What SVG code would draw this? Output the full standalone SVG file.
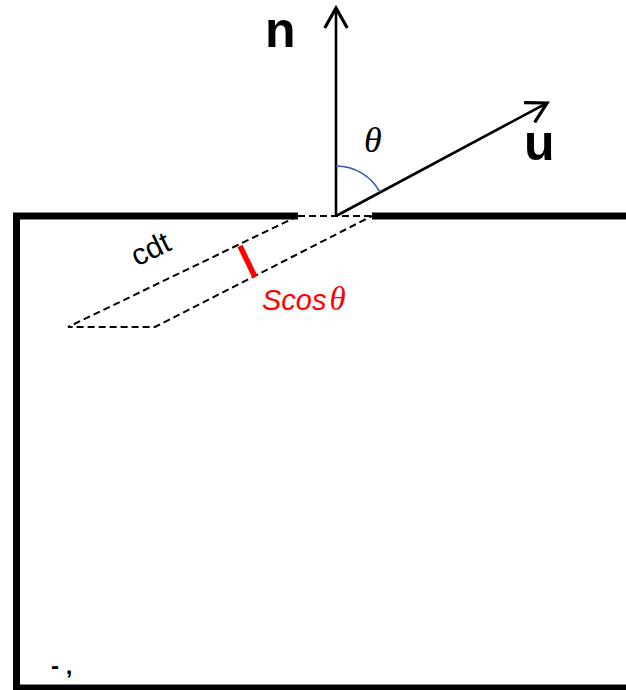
<svg xmlns="http://www.w3.org/2000/svg" width="626" height="690" viewBox="0 0 626 690">
<defs>
<style>
.wall{stroke:#000;stroke-width:7;fill:none;stroke-linecap:butt;stroke-linejoin:miter}
.vec{stroke:#000;stroke-width:2.6;fill:none}
.dash{stroke:#000;stroke-width:2;fill:none;stroke-dasharray:7 4}
.bold{font-family:"Liberation Sans",Arial,sans-serif;font-weight:bold;font-size:50px;fill:#000}
.greek{font-family:"Liberation Serif","Times New Roman",serif;font-style:italic;fill:#000}
</style>
<marker id="arr" markerUnits="userSpaceOnUse" markerWidth="30" markerHeight="30" refX="0" refY="0" viewBox="-20 -12 24 24" orient="auto" overflow="visible">
<path d="M-16,-9 L0,0 L-16,9" fill="none" stroke="#000" stroke-width="2.6" stroke-linejoin="miter"/>
</marker>
</defs>
<rect width="626" height="690" fill="#fff"/>
<g id="container">
<path class="wall" d="M298,216 H16.5 V688 H626"/>
<path class="wall" d="M372,216 H626"/>
</g>
<g id="connectors">
<line id="n-vector" class="vec" x1="336" y1="216" x2="336" y2="8" marker-end="url(#arr)"/>
<line id="u-vector" class="vec" x1="336" y1="216" x2="547" y2="103" marker-end="url(#arr)"/>
<path id="angle-arc" d="M336,166 A50,50 0 0 1 380.1,192.4" fill="none" stroke="#2f5bab" stroke-width="1.6"/>
</g>
<g id="volume">
<path class="dash" d="M298,216 H372"/>
<path class="dash" d="M298,216 L68,327 H155 L372,216"/>
<line x1="240" y1="246" x2="255" y2="277" stroke="#ff0000" stroke-width="5.5"/>
</g>
<g id="labels">
<text class="bold" x="265" y="47">n</text>
<text class="bold" x="524" y="160">u</text>
<text class="greek" x="364" y="152" font-size="36">θ</text>
<text x="151" y="259" font-family="Liberation Sans, Arial, sans-serif" font-size="30" text-anchor="middle" transform="rotate(-26 151 250)">cdt</text>
<text x="262" y="310" font-family="Liberation Sans, Arial, sans-serif" font-size="29" font-style="italic" fill="#ff0000">Scos<tspan font-family="Liberation Serif, Times New Roman, serif" font-size="33" dx="3">θ</tspan></text>
<text x="51" y="674" font-family="Liberation Sans, Arial, sans-serif" font-size="24" font-weight="bold">- ,</text>
</g>
</svg>
